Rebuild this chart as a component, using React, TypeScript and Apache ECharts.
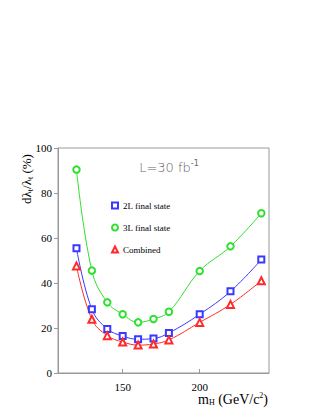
import React, { useEffect, useRef } from "react";
import * as echarts from "echarts";

const masses = [120, 130, 140, 150, 160, 170, 180, 200, 220, 240];
const twoL = [55.4, 28.3, 19.6, 16.4, 15.0, 15.3, 17.8, 26.1, 36.3, 50.4];
const threeL = [90.4, 45.5, 31.4, 26.1, 22.5, 24.0, 27.2, 45.3, 56.3, 71.0];
const combined = [47.6, 23.9, 16.6, 13.8, 12.4, 12.9, 14.7, 22.5, 30.5, 41.0];
const seriesNames = ["2L final state", "3L final state", "Combined"];
const xTicks = [150, 200];
const yTitleParts = [
  { t: "dλ", sub: false },
  { t: "t", sub: true },
  { t: "/λ", sub: false },
  { t: "t", sub: true },
  { t: " (%)", sub: false },
];

const BLUE = "#3838ff";
const GREEN = "#2ee02e";
const RED = "#ff2a2a";

function measure(text: string, size: number): number {
  const c = document.createElement("canvas").getContext("2d");
  if (!c) return text.length * size * 0.5;
  c.font = `${size}px "Liberation Serif"`;
  return c.measureText(text).width;
}

export default function App() {
  const ref = useRef<HTMLDivElement>(null);
  useEffect(() => {
    if (!ref.current) return;
    const chart = echarts.init(ref.current, undefined, { renderer: "svg" });
    const mk = (name: string, vals: number[], color: string, symbol: string, size: number) => ({
      name,
      type: "line",
      smooth: 0.4,
      data: masses.map((m, i) => [m, vals[i]]),
      symbol,
      symbolSize: size,
      showAllSymbol: true,
      lineStyle: { color, width: 1 },
      itemStyle: { color, borderColor: color, borderWidth: 1 },
    });

    const MAIN = 13;
    const SUB = 8;
    const CX = 26;
    const CY = 179;
    const widths = yTitleParts.map((p) => measure(p.t, p.sub ? SUB : MAIN));
    const total = widths.reduce((a, b) => a + b, 0);
    let cy = CY + total / 2;
    const yTitle = yTitleParts.map((p, i) => {
      const el = {
        type: "text",
        x: p.sub ? CX + 4 : CX,
        y: cy,
        rotation: Math.PI / 2,
        style: {
          text: p.t,
          align: "left",
          verticalAlign: "middle",
          fontFamily: "Liberation Serif",
          fontSize: p.sub ? SUB : MAIN,
          fill: "#000",
        },
      };
      cy -= widths[i];
      return el;
    });

    chart.setOption({
      animation: false,
      grid: {
        left: 58,
        right: 54,
        top: 148,
        bottom: 45,
        show: true,
        borderColor: "#999",
        borderWidth: 1,
      },
      xAxis: {
        type: "value",
        min: 108,
        max: 245,
        axisLine: { show: true, lineStyle: { color: "#999" } },
        axisTick: { show: true, inside: true, length: 4, customValues: xTicks, lineStyle: { color: "#999" } },
        axisLabel: {
          customValues: xTicks,
          color: "#000",
          fontFamily: "Liberation Serif",
          fontSize: 11,
          margin: 8,
        },
        splitLine: { show: false },
      },
      yAxis: {
        type: "value",
        min: 0,
        max: 100,
        interval: 20,
        axisLine: { show: true, lineStyle: { color: "#999" } },
        axisTick: { show: true, length: 4, lineStyle: { color: "#999" } },
        axisLabel: {
          color: "#000",
          fontFamily: "Liberation Serif",
          fontSize: 11,
          margin: 6,
        },
        splitLine: { show: false },
      },
      legend: {
        orient: "vertical",
        left: 111,
        top: 200,
        padding: 0,
        itemGap: 11,
        itemWidth: 6,
        itemHeight: 6,
        itemStyle: { borderWidth: 1 },
        textStyle: { fontFamily: "Liberation Serif", fontSize: 9, color: "#000", lineHeight: 11 },
        data: [
          { name: seriesNames[0], icon: "emptyRect" },
          { name: seriesNames[1], icon: "emptyCircle" },
          { name: seriesNames[2], icon: "emptyTriangle" },
        ],
      },
      graphic: [
        ...yTitle,
        {
          type: "text",
          x: 169,
          y: 167,
          style: {
            text: "{a|L=30 fb}{s|-1}",
            align: "center",
            verticalAlign: "middle",
            rich: {
              a: { fontFamily: "DejaVu Sans", fontSize: 13, fill: "#666", fontWeight: 200 },
              s: { fontFamily: "DejaVu Sans", fontSize: 8, fill: "#666", padding: [0, 0, 8, 0] },
            },
          },
        },
        {
          type: "text",
          x: 233,
          y: 399,
          style: {
            text: "{a|m}{s|H}{a| (GeV/c}{p|2}{a|)}",
            align: "center",
            verticalAlign: "middle",
            rich: {
              a: { fontFamily: "Liberation Serif", fontSize: 14, fill: "#000" },
              s: { fontFamily: "Liberation Serif", fontSize: 8, fill: "#000", padding: [6, 0, 0, 0] },
              p: { fontFamily: "Liberation Serif", fontSize: 8, fill: "#000", padding: [0, 0, 8, 0] },
            },
          },
        },
      ],
      series: [
        mk(seriesNames[0], twoL, BLUE, "emptyRect", 6),
        mk(seriesNames[1], threeL, GREEN, "emptyCircle", 6.5),
        mk(seriesNames[2], combined, RED, "emptyTriangle", 7),
      ],
    });
    return () => chart.dispose();
  }, []);
  return <div ref={ref} style={{ position: "absolute", left: 0, top: 0, width: 323, height: 418 }} />;
}
